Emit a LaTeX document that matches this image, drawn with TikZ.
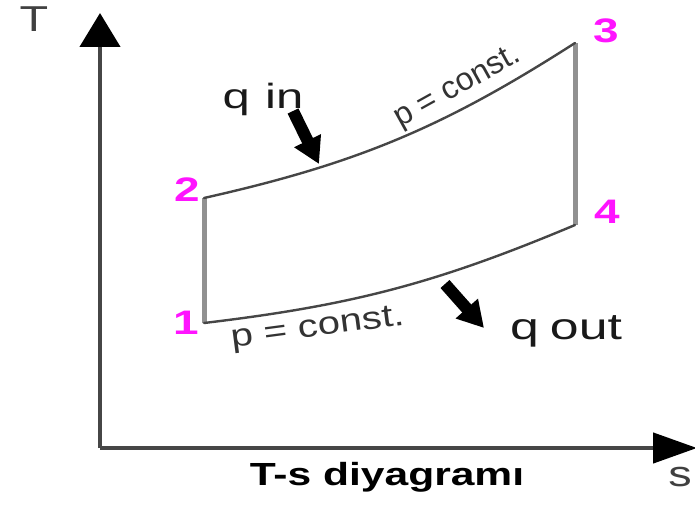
\documentclass[tikz,border=0pt]{standalone}
\usepackage{fontspec}
\setmainfont{Liberation Sans}
\usetikzlibrary{arrows.meta}
\definecolor{ptmag}{RGB}{255,20,255}
\definecolor{axisgray}{RGB}{70,70,70}
\definecolor{isogray}{RGB}{145,145,145}
\definecolor{curvegray}{RGB}{70,70,70}
\begin{document}
\begin{tikzpicture}[x=1pt,y=-1pt,
  axisline/.style={draw=axisgray,line width=4.5pt,-{Triangle[length=34pt,width=40pt,color=black]}},
  isoline/.style={draw=isogray,line width=5pt},
  pline/.style={draw=curvegray,line width=2.4pt},
  ptlabel/.style={text=ptmag,font=\fontsize{34}{34}\selectfont\bfseries,xscale=1.35,inner sep=0pt},
  qlabel/.style={font=\fontsize{35}{35}\selectfont,xscale=1.4,inner sep=0pt,text=black!90},
  qoutlabel/.style={font=\fontsize{37}{37}\selectfont,xscale=1.4,inner sep=0pt,text=black!90},
  plabel/.style={font=\fontsize{32}{32}\selectfont,inner sep=0pt,text=black!80},
  heatarrow/.style={draw=black,line width=12pt,-{Triangle[length=26pt,width=28pt]}},
  axlabel/.style={font=\fontsize{36}{36}\selectfont,xscale=1.3,inner sep=0pt,text=black!75}]
\useasboundingbox (0,0) rectangle (695,505);
\clip (0,0) rectangle (695,505);
% axes
\coordinate (O) at (100,448);
\coordinate (ytop) at (100,13);
\coordinate (xend) at (697,448);
\draw[axisline] (O) -- (ytop);
\draw[axisline,-{Triangle[length=44pt,width=30pt,color=black]}] (O) -- (xend);
\node[axlabel] (T) at (34,19) {T};
\node[axlabel] (s) at (680,477) {s};
\node[font=\fontsize{32}{32}\selectfont\bfseries,xscale=1.33,inner sep=0pt] (cap) at (387,477) {T-s diyagramı};
% cycle points
\coordinate (p1) at (204,323);
\coordinate (p2) at (204,198);
\coordinate (p3) at (575,43);
\coordinate (p4) at (575,225);
\draw[isoline] (p1) -- (p2);
\draw[isoline] (p4) -- (p3);
\draw[pline,line cap=round] (p2) to[bend right=10] (p3);
\draw[pline,line cap=round] (p1) to[bend right=8] (p4);
% point labels
\node[ptlabel] (n1) at (186,323) {1};
\node[ptlabel] (n2) at (187,190) {2};
\node[ptlabel] (n3) at (606,31) {3};
\node[ptlabel] (n4) at (607,212) {4};
% pressure labels
\node[plabel,rotate=29] (pu) at (458,88) {p = const.};
\node[plabel,rotate=7.5,xscale=1.25] (pl) at (318,329) {p = const.};
% heat
\node[qlabel] (qin) at (263,99) {q\hspace{11pt}in};
\node[qoutlabel] (qout) at (566,331) {q\hspace{8pt}out};
\coordinate (qinA) at (293,111);
\coordinate (qinB) at (319,164);
\coordinate (qoutA) at (445,284);
\coordinate (qoutB) at (484,328);
\draw[heatarrow] (qinA) -- (qinB);
\draw[heatarrow] (qoutA) -- (qoutB);
\end{tikzpicture}
\end{document}
